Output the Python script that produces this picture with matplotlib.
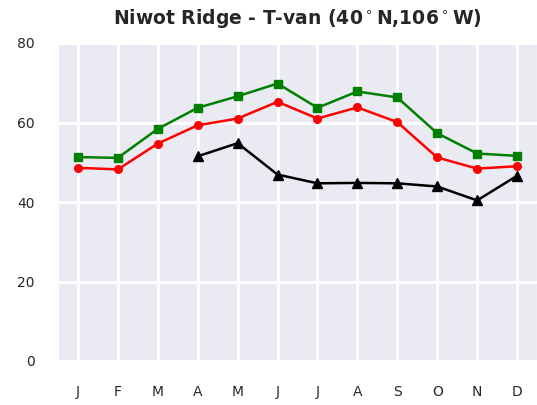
import matplotlib
matplotlib.use("Agg")
import matplotlib.pyplot as plt
import seaborn as sns
import numpy as np

sns.set_style("darkgrid")
plt.rcParams['font.family'] = ['DejaVu Sans']

months = ['J', 'F', 'M', 'A', 'M', 'J', 'J', 'A', 'S', 'O', 'N', 'D']
month_pos = np.arange(1, 13)

# monthly mean values, three series
green_vals = [51.3, 51.1, 58.4, 63.7, 66.6, 69.8, 63.7, 67.8, 66.3, 57.3, 52.2, 51.6]
red_vals = [48.6, 48.2, 54.7, 59.3, 61.0, 65.2, 61.0, 63.8, 60.1, 51.2, 48.4, 49.0]
black_vals = [np.nan, np.nan, np.nan, 51.5, 54.8, 46.9, 44.7, 44.8, 44.7, 43.9, 40.4, 46.6]

fig = plt.figure(figsize=(5.37, 4.05), dpi=100)
ax = fig.add_axes([58 / 537, 1 - 361 / 405, 479 / 537, 318 / 405])

ax.plot(month_pos, green_vals, color='green', marker='s', markersize=5.5, linewidth=1.8)
ax.plot(month_pos, red_vals, color='red', marker='o', markersize=5.5, linewidth=1.8)
ax.plot(month_pos, black_vals, color='black', marker='^', markersize=6.5, linewidth=1.8)

ax.set_xlim(0.5, 12.5)
ax.set_ylim(0, 80)
ax.set_xticks(month_pos)
ax.set_xticklabels(months)
ax.set_yticks([0, 20, 40, 60, 80])
ax.tick_params(axis='both', length=0, pad=17, labelsize=10, labelcolor='#262626')
ax.grid(True, color='white', linewidth=2.2)

ax.set_title(r'Niwot Ridge - T-van (40$^\circ$N,106$^\circ$W)',
             fontsize=13.5, fontweight='bold', color='#262626', pad=14)

fig.savefig('out.png', dpi=100)
